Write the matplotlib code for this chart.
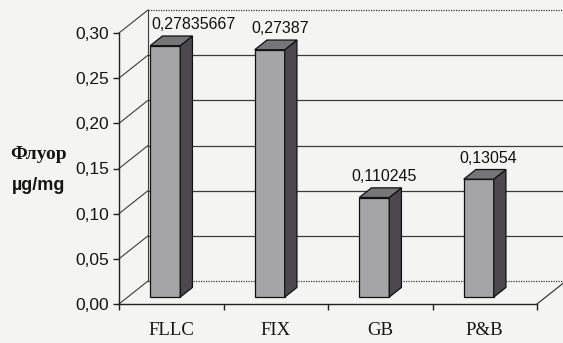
import matplotlib
matplotlib.use("Agg")
import matplotlib.pyplot as plt
from matplotlib.patches import Polygon, Rectangle
import numpy as np

categories = ["FLLC", "FIX", "GB", "P&B"]
values = [0.27835667, 0.27387, 0.110245, 0.13054]
value_labels = ["0,27835667", "0,27387", "0,110245", "0,13054"]
y_ticks = [0.00, 0.05, 0.10, 0.15, 0.20, 0.25, 0.30]

W, H = 563, 343
fig = plt.figure(figsize=(W / 100, H / 100), dpi=100)
fig.patch.set_facecolor("#f4f4f2")

# front plane of the 3d box: x 0..4 -> px 119..537, y 0..0.30 -> px 304..33
ax = fig.add_axes([119 / W, (H - 304) / H, 418 / W, 271 / H])
ax.set_xlim(0, 4)
ax.set_ylim(0, 0.30)
ax.patch.set_alpha(0)

px_x = 4 / 418.0
px_y = 0.30 / 271.0
dx = 29 * px_x   # depth offset of the back wall
dy = 23 * px_y

grid_col = "#3c3c3c"

# back wall gridlines
for t in y_ticks:
    ls = (0, (1, 1)) if t in (0.0, 0.30) else "-"
    ax.plot([dx, 4 + dx], [t + dy, t + dy], color=grid_col, lw=0.9, ls=ls,
            clip_on=False, zorder=1)
    # side wall lines from the front axis back to the wall
    ax.plot([0, dx], [t, t + dy], color=grid_col, lw=0.8, clip_on=False, zorder=1)
ax.plot([dx, dx], [dy, 0.30 + dy], color=grid_col, lw=0.8, clip_on=False, zorder=1)
ax.plot([4, 4 + dx], [0, dy], color=grid_col, lw=0.9, clip_on=False, zorder=1)

# 3d columns
front_col = "#a5a5a8"
side_col = "#4d484f"
top_col = "#77747a"
bar_w = 30 * px_x
d0, d1 = 0.3, 0.72
for i, v in enumerate(values):
    xl = i + 0.5 - 21 * px_x
    y0 = d0 * dy
    sx = (d1 - d0) * dx
    sy = (d1 - d0) * dy
    front = Rectangle((xl, y0), bar_w, v, facecolor=front_col,
                      edgecolor="#111111", lw=0.9, zorder=3 + i, clip_on=False)
    side = Polygon([(xl + bar_w, y0), (xl + bar_w + sx, y0 + sy),
                    (xl + bar_w + sx, y0 + v + sy), (xl + bar_w, y0 + v)],
                   closed=True, facecolor=side_col, edgecolor="#111111",
                   lw=0.9, zorder=3 + i, clip_on=False)
    top = Polygon([(xl, y0 + v), (xl + bar_w, y0 + v),
                   (xl + bar_w + sx, y0 + v + sy), (xl + sx, y0 + v + sy)],
                  closed=True, facecolor=top_col, edgecolor="#111111",
                  lw=0.9, zorder=3 + i, clip_on=False)
    for p in (front, side, top):
        ax.add_patch(p)

    nudge = 18 * px_x if i == 0 else 0
    ax.text(xl + 25 * px_x + nudge, v + d1 * dy + 4 * px_y, value_labels[i],
            ha="center", va="bottom", fontsize=11.5, family="Liberation Sans",
            color="#111111", zorder=10, clip_on=False)

# axes
for side in ("top", "right"):
    ax.spines[side].set_visible(False)
for side in ("left", "bottom"):
    ax.spines[side].set_color("#222222")
    ax.spines[side].set_linewidth(1.0)
    ax.spines[side].set_zorder(8)

ax.set_yticks(y_ticks)
ax.set_yticklabels([f"{t:.2f}".replace(".", ",") for t in y_ticks],
                   fontsize=12.5, family="Liberation Sans", color="#151515")
ax.tick_params(axis="y", length=4, width=1, pad=3, color="#222222")

ax.set_xticks(np.arange(0, 5))
ax.set_xticklabels([])
ax.tick_params(axis="x", which="major", length=4, width=1, color="#222222")
ax.set_xticks(np.arange(len(categories)) + 0.5, minor=True)
ax.set_xticklabels(categories, minor=True, fontsize=13.5,
                   family="Liberation Serif", color="#151515")
ax.tick_params(axis="x", which="minor", length=0, pad=13)

fig.text(39 / W, 1 - 155 / H, "Флуор", ha="center", va="center",
         fontsize=14, fontweight="bold", family="Liberation Serif", color="#151515")
fig.text(39 / W, 1 - 185 / H, "µg/mg", ha="center", va="center",
         fontsize=13, fontweight="bold", family="Liberation Sans", color="#151515")

fig.savefig("out.png", dpi=100, facecolor=fig.get_facecolor())
